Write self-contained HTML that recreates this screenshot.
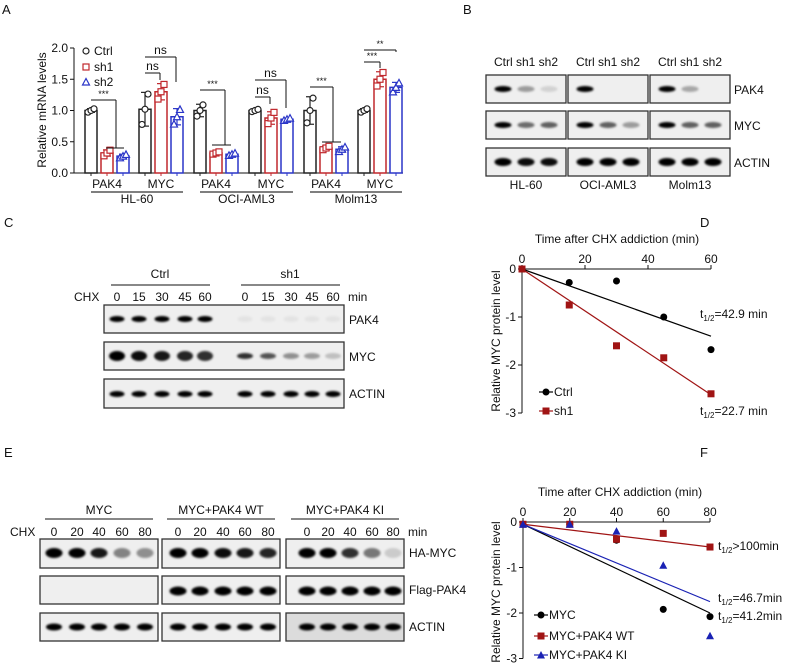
<!DOCTYPE html>
<html><head><meta charset="utf-8"><style>
html,body{margin:0;padding:0;background:#fff}
svg{display:block;font-family:"Liberation Sans",Arial,sans-serif}
</style></head><body>
<svg id="fig" width="787" height="663" viewBox="0 0 787 663">
<defs><filter id="bl" x="-30%" y="-80%" width="160%" height="260%"><feGaussianBlur stdDeviation="1.1"/></filter></defs>
</svg>
<script>
// ---- Panel A data ----
const aGroups = ['PAK4','MYC','PAK4','MYC','PAK4','MYC'];
const aCells = ['HL-60','OCI-AML3','Molm13'];
const aCtrl = [1.0, 1.02, 1.0, 1.0, 1.0, 1.0];
const aSh1 = [0.32, 1.3, 0.32, 0.88, 0.4, 1.5];
const aSh2 = [0.27, 0.9, 0.3, 0.86, 0.38, 1.37];
const aErrCtrl = [0.03, 0.27, 0.1, 0.02, 0.22, 0.03];
const aErrSh1 = [0.05, 0.13, 0.02, 0.1, 0.03, 0.12];
const aErrSh2 = [0.03, 0.13, 0.02, 0.02, 0.04, 0.08];
const aTicks = [0, 0.5, 1.0, 1.5, 2.0];
// ---- Panel D data ----
const dTimes = [0, 15, 30, 45, 60];
const dCtrl = [0, -0.28, -0.25, -1.0, -1.68];
const dSh1 = [0, -0.75, -1.6, -1.85, -2.6];
const dFitCtrl = [0, -1.4];
const dFitSh1 = [0, -2.62];
const dXTicks = [0, 20, 40, 60];
const dYTicks = [0, -1, -2, -3];
// ---- Panel F data ----
const fTimes = [0, 20, 40, 60, 80];
const fMyc = [-0.05, -0.05, -0.4, -1.92, -2.08];
const fWt = [-0.05, -0.05, -0.38, -0.25, -0.55];
const fKi = [-0.05, -0.05, -0.2, -0.95, -2.5];
const fFitMyc = [-0.05, -2.0];
const fFitWt = [-0.05, -0.55];
const fFitKi = [-0.05, -1.75];
const fXTicks = [0, 20, 40, 60, 80];
const fYTicks = [0, -1, -2, -3];

const svg = document.getElementById('fig');
const NS = 'http://www.w3.org/2000/svg';
function el(tag, attrs, parent, text){
  const e = document.createElementNS(NS, tag);
  for (const k in attrs) e.setAttribute(k, attrs[k]);
  if (text !== undefined) e.textContent = text;
  (parent || svg).appendChild(e);
  return e;
}
function txt(x,y,s,size,anchor,name,fill){
  const t = el('text',{x:x,y:y,'font-size':size||12,'text-anchor':anchor||'start',fill:fill||'#111'},svg,s);
  
  
  return t;
}
function ln(x1,y1,x2,y2,c,w){ return el('line',{x1:x1,y1:y1,x2:x2,y2:y2,stroke:c||'#111','stroke-width':w||1}); }

// panel letters
[['A',2,14],['B',463,14],['C',4,227],['D',700,227],['E',4,457],['F',700,457]].forEach(p=>{
  txt(p[1],p[2],p[0],13,'start','panel-letter-'+p[0].toLowerCase());
});

// ===== Panel A =====
const aY0 = 173, aPx = 62.5, aAxX = 74, aAxEnd = 403;
const ay = v => aY0 - v*aPx;
ln(aAxX, ay(2), aAxX, aY0);
ln(aAxX, aY0, aAxEnd, aY0);
aTicks.forEach(v=>{ ln(aAxX-4, ay(v), aAxX, ay(v)); txt(aAxX-6, ay(v)+4, v.toFixed(1), 12, 'end', 'y-tick-label'); });
const yt = txt(0,0,'Relative mRNA levels',12,'middle','y-axis-title');
yt.setAttribute('transform','translate(46,110) rotate(-90)');
const series = [[aCtrl,aErrCtrl,'#222','o'],[aSh1,aErrSh1,'#c0282d','s'],[aSh2,aErrSh2,'#2a35c8','t']];
const grpStart = [91,145,200,255,310,364];
const barW = 12, stride = 16;
aGroups.forEach((g,i)=>{
  series.forEach((s,j)=>{
    const cx = grpStart[i] + j*stride;
    const v = s[0][i], e = s[1][i];
    const r = el('rect',{x:cx-barW/2,y:ay(v),width:barW,height:aY0-ay(v),fill:'none',stroke:s[2],'stroke-width':1.5});
    
    
    ln(cx, ay(v+e), cx, ay(v-e), s[2], 1.2);
    ln(cx-4, ay(v+e), cx+4, ay(v+e), s[2], 1.2);
    ln(cx-4, ay(v-e), cx+4, ay(v-e), s[2], 1.2);
    [-e*0.9, 0, e*0.9].forEach((d,k)=>{
      const px = cx + (k-1)*3, py = ay(v+d);
      if (s[3]==='o') el('circle',{cx:px,cy:py,r:3,fill:'#fff',stroke:s[2],'stroke-width':1.2});
      else if (s[3]==='s') el('rect',{x:px-3,y:py-3,width:6,height:6,fill:'#fff',stroke:s[2],'stroke-width':1.2});
      else el('polygon',{points:`${px},${py-3.5} ${px-3.5},${py+3} ${px+3.5},${py+3}`,fill:'#fff',stroke:s[2],'stroke-width':1.2});
    });
    ln(cx, aY0, cx, aY0+3, s[2], 1);
  });
  txt(grpStart[i]+stride, 188, g, 12, 'middle', 'x-category-label');
});
aCells.forEach((c,i)=>{
  const x1 = grpStart[2*i], x2 = grpStart[2*i+1]+2*stride+6;
  ln(x1, 192, x2, 192, '#333', 1.2);
  txt((x1+x2)/2, 203, c, 12, 'middle', 'cell-line-label');
});
function brk(xa, ya, xb, yb, label, x3, x4){
  ln(xa, ya, xb, ya); ln(xb, ya, xb, yb);
  if (x3!==undefined) ln(x3, yb, x4, yb);
  txt((xa+xb)/2, ya-3, label, label==='ns'?12:9, 'middle', 'significance-label');
}
brk(91, 100, 116, 148, '***', 106, 124);
brk(145, 73, 160, 80, 'ns');
brk(145, 57, 176, 82, 'ns');
brk(200, 90, 225, 145, '***', 212, 231);
brk(255, 97, 270, 104, 'ns');
brk(255, 80, 286, 108, 'ns');
brk(310, 87, 333, 142, '***', 322, 341);
brk(364, 62, 380, 68, '***');
brk(364, 50, 396, 52, '**');
[['Ctrl','#222','o',51],['sh1','#c0282d','s',67],['sh2','#2a35c8','t',82]].forEach(l=>{
  const x=86, y=l[3];
  if (l[2]==='o') el('circle',{cx:x,cy:y,r:3,fill:'#fff',stroke:l[1],'stroke-width':1.2});
  else if (l[2]==='s') el('rect',{x:x-3,y:y-3,width:6,height:6,fill:'#fff',stroke:l[1],'stroke-width':1.2});
  else el('polygon',{points:`${x},${y-3.5} ${x-3.5},${y+3} ${x+3.5},${y+3}`,fill:'#fff',stroke:l[1],'stroke-width':1.2});
  txt(94, y+4, l[0], 12, 'start', 'legend-entry');
});

// ===== blot helper =====
function box(x,y,w,h,name,bg){
  const r = el('rect',{x:x,y:y,width:w,height:h,fill:bg||'#efefef',stroke:'#333','stroke-width':1.3});
  
  
}
function band(cx,cy,w,h,op){
  if (op<=0.02) return;
  el('ellipse',{cx:cx,cy:cy,rx:w/2,ry:h/2,fill:'#000','fill-opacity':op,filter:'url(#bl)'});
}

// ===== Panel B =====
const bBoxX = [486,568,650], bRowY = [75,111,148];
const bInt = [ [[1,.35,.12],[1,.55,.6],[1,.95,.95]], [[1,0,0],[1,.6,.35],[1,1,1]], [[1,.3,0],[1,.6,.6],[1,1,1]] ];
['PAK4','MYC','ACTIN'].forEach((p,r)=>{
  bBoxX.forEach((bx,b)=>{
    box(bx, bRowY[r], 80, 28, 'blot-b-'+p.toLowerCase()+'-'+b);
    [0,1,2].forEach(k=>band(bx+17+k*23, bRowY[r]+14, 17, r===2?8:6, bInt[b][r][k]));
  });
  txt(734, bRowY[r]+19, p, 12, 'start', 'protein-label');
});
bBoxX.forEach((bx,b)=>{
  txt(bx+40, 66, 'Ctrl sh1 sh2', 12, 'middle', 'lane-header');
  txt(bx+40, 189, aCells[b], 12, 'middle', 'cell-line-label');
});

// ===== Panel C =====
const cL = [117,139,162,185,205,245,268,291,312,333];
const cT = ['0','15','30','45','60','0','15','30','45','60'];
const cMyc = [1,.95,.9,.85,.8,.8,.65,.4,.35,.2];
box(104,305,240,28,'blot-c-pak4'); box(104,342,240,28,'blot-c-myc'); box(104,379,240,29,'blot-c-actin');
cL.forEach((x,i)=>{
  band(x,319,15,6,i<5?1:0.05);
  band(x,356,16,i<5?10:6,cMyc[i]);
  band(x,394,15,6,1);
  txt(x,301,cT[i],12,'middle','time-label');
});
txt(74,301,'CHX',12,'start','chx-label'); txt(348,301,'min',12,'start','unit-label');
ln(111,285,210,285); ln(241,285,340,285);
txt(160,278,'Ctrl',12,'middle','group-label'); txt(290,278,'sh1',12,'middle','group-label');
txt(349,324,'PAK4',12,'start','protein-label'); txt(349,361,'MYC',12,'start','protein-label'); txt(349,398,'ACTIN',12,'start','protein-label');

// ===== Panel E =====
const eBox = [40,162,286];
const eL = [[54,77,99,122,145],[178,200,223,245,268],[307,328,350,372,393]];
const eMyc = [[1,1,.9,.45,.4],[1,1,.95,.9,.85],[1,1,.8,.5,.15]];
const eHead = ['MYC','MYC+PAK4 WT','MYC+PAK4 KI'];
const eT = ['0','20','40','60','80'];
eBox.forEach((bx,b)=>{
  box(bx,539,118,29,'blot-e-ha-myc-'+b);
  box(bx,576,118,28,'blot-e-flag-pak4-'+b);
  box(bx,613,118,28,'blot-e-actin-'+b, b===2?'#dcdcdc':'#efefef');
  eL[b].forEach((x,k)=>{
    band(x,553,17,10,eMyc[b][k]);
    if (b>0) band(x,591,17,9,1);
    band(x,627,16,7,1);
    txt(x,536,eT[k],12,'middle','time-label');
  });
  ln(bx+5,519,bx+113,519);
  txt(bx+59,514,eHead[b],12,'middle','group-label');
});
txt(10,536,'CHX',12,'start','chx-label'); txt(408,536,'min',12,'start','unit-label');
txt(409,557,'HA-MYC',12,'start','protein-label'); txt(409,594,'Flag-PAK4',12,'start','protein-label'); txt(409,631,'ACTIN',12,'start','protein-label');

// ===== line chart helper =====
function lineChart(cfg){
  const sx = t => cfg.x0 + t*cfg.xs, sy = v => cfg.y0 - v*cfg.ys;
  ln(sx(0), sy(0), sx(cfg.xmax), sy(0));
  ln(sx(0), sy(0), sx(0), sy(-3));
  cfg.xt.forEach(t=>{ ln(sx(t),sy(0),sx(t),sy(0)-4); txt(sx(t),sy(0)-6,String(t),12,'middle','x-tick-label'); });
  cfg.yt.forEach(v=>{ ln(sx(0)-4,sy(v),sx(0),sy(v)); txt(sx(0)-6,sy(v)+4,String(v),12,'end','y-tick-label'); });
  txt(cfg.titleX, cfg.titleY, 'Time after CHX addiction (min)', 12, 'middle', 'x-axis-title');
  const yl = txt(0,0,'Relative MYC protein level',12,'middle','y-axis-title');
  yl.setAttribute('transform',`translate(${cfg.ylx},${cfg.yly}) rotate(-90)`);
  cfg.series.forEach(s=>{
    const l = ln(sx(0), sy(s.fit[0]), sx(cfg.xmax), sy(s.fit[1]), s.color, 1.2);
    
    
    s.vals.forEach((v,i)=>{
      const x = sx(cfg.times[i]), y = sy(v);
      let m;
      if (s.shape==='o') m = el('circle',{cx:x,cy:y,r:3.5,fill:s.color});
      else if (s.shape==='s') m = el('rect',{x:x-3.5,y:y-3.5,width:7,height:7,fill:s.color});
      else m = el('polygon',{points:`${x},${y-4} ${x-4},${y+3.5} ${x+4},${y+3.5}`,fill:s.color});
      
      
    });
  });
}
lineChart({x0:522,xs:189/60,y0:269,ys:48,xmax:60,xt:dXTicks,yt:dYTicks,times:dTimes,titleX:617,titleY:243,ylx:500,yly:341,
  series:[{key:'ctrl',vals:dCtrl,fit:dFitCtrl,color:'#000',shape:'o'},{key:'sh1',vals:dSh1,fit:dFitSh1,color:'#a01414',shape:'s'}]});
lineChart({x0:523,xs:187/80,y0:522,ys:45.5,xmax:80,xt:fXTicks,yt:fYTicks,times:fTimes,titleX:620,titleY:496,ylx:500,yly:592,
  series:[{key:'myc',vals:fMyc,fit:fFitMyc,color:'#000',shape:'o'},{key:'wt',vals:fWt,fit:fFitWt,color:'#a01414',shape:'s'},{key:'ki',vals:fKi,fit:fFitKi,color:'#1a22b4',shape:'t'}]});

function thalf(x,y,rest,name){
  const t = el('text',{x:x,y:y,'font-size':12,fill:'#111'});
  
  
  el('tspan',{},t,'t');
  el('tspan',{'font-size':8,dy:3},t,'1/2');
  el('tspan',{dy:-3},t,rest);
}
thalf(700,318,'=42.9 min','half-life-ctrl');
thalf(700,415,'=22.7 min','half-life-sh1');
thalf(718,550,'>100min','half-life-wt');
thalf(718,602,'=46.7min','half-life-ki');
thalf(718,620,'=41.2min','half-life-myc');

function legend(x,y,color,shape,label){
  ln(x,y,x+14,y,color,1.2);
  const cx=x+7;
  if (shape==='o') el('circle',{cx:cx,cy:y,r:3.5,fill:color});
  else if (shape==='s') el('rect',{x:cx-3.5,y:y-3.5,width:7,height:7,fill:color});
  else el('polygon',{points:`${cx},${y-4} ${cx-4},${y+3.5} ${cx+4},${y+3.5}`,fill:color});
  txt(x+15,y+4,label,12,'start','legend-entry');
}
legend(539,392,'#000','o','Ctrl');
legend(539,411,'#a01414','s','sh1');
legend(534,615,'#000','o','MYC');
legend(534,636,'#a01414','s','MYC+PAK4 WT');
legend(534,655,'#1a22b4','t','MYC+PAK4 KI');
</script>
</body></html>
